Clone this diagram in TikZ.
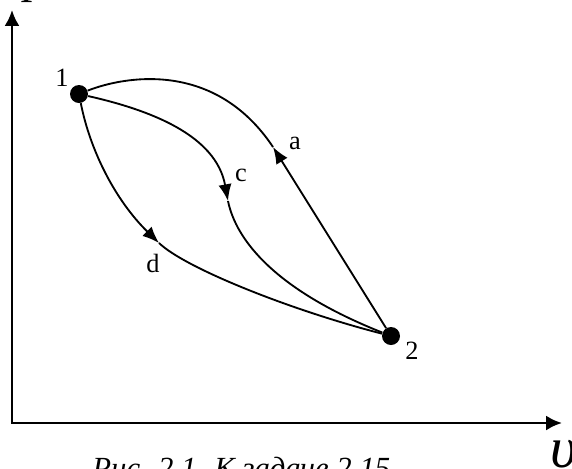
\documentclass[tikz,border=0pt]{standalone}
\usepackage{fontspec}
\setmainfont{Liberation Serif}
\usetikzlibrary{arrows.meta}
\begin{document}
\begin{tikzpicture}[x=0.02cm,y=-0.02cm,
  dot/.style={circle,fill=black,inner sep=0pt,minimum size=0.36cm},
  lbl/.style={font=\fontsize{15}{18}\selectfont,inner sep=0pt},
  axlbl/.style={font=\fontsize{27}{32}\selectfont\itshape,inner sep=0pt,anchor=base west},
  axis/.style={line width=1.5pt,{Latex[length=9pt,width=8.5pt]}-{Latex[length=9pt,width=8.5pt]}},
  curve/.style={line width=1.05pt},
  tip/.style={-{Latex[length=9.5pt,width=7.5pt]}}]
\useasboundingbox (0,0) rectangle (572,468);
% axes
\coordinate (ytop) at (12,10);
\coordinate (o) at (12,423);
\coordinate (xend) at (562,423);
\draw[axis] (ytop) -- (o) -- (xend);
\node[axlbl] (pl) at (24,-8) {p};
\node[axlbl,font=\fontsize{33}{38}\selectfont\itshape] (vl) at (550,467) {υ};
% states
\node[dot] (p1) at (79,94) {};
\node[dot] (p2) at (391,336) {};
\node[lbl] (l1) at (62,78) {1};
\node[lbl] (l2) at (412,351) {2};
% arrow points
\coordinate (A) at (273,147);
\coordinate (C) at (228,201);
\coordinate (D) at (159,243);
% path a
\draw[curve,tip] (p2) -- (A);
\draw[curve] (A) .. controls (215,60) and (125,76) .. (p1);
% path c
\draw[curve,tip] (p1) .. controls (150,110) and (216,135) .. (C);
\draw[curve] (C) .. controls (236,240) and (275,290) .. (p2);
% path d
\draw[curve,tip] (p1) .. controls (90,150) and (115,200) .. (D);
\draw[curve] (D) .. controls (185,268) and (290,310) .. (p2);
% labels
\node[lbl] (la) at (295,143) {a};
\node[lbl] (lc) at (241,175) {c};
\node[lbl] (ld) at (153,263) {d};
% caption
\node[font=\fontsize{17.5}{21}\selectfont\itshape,inner sep=0pt,anchor=base west] (cap) at (92,478) {Рис. 2.1. К задаче 2.15};
\end{tikzpicture}
\end{document}
